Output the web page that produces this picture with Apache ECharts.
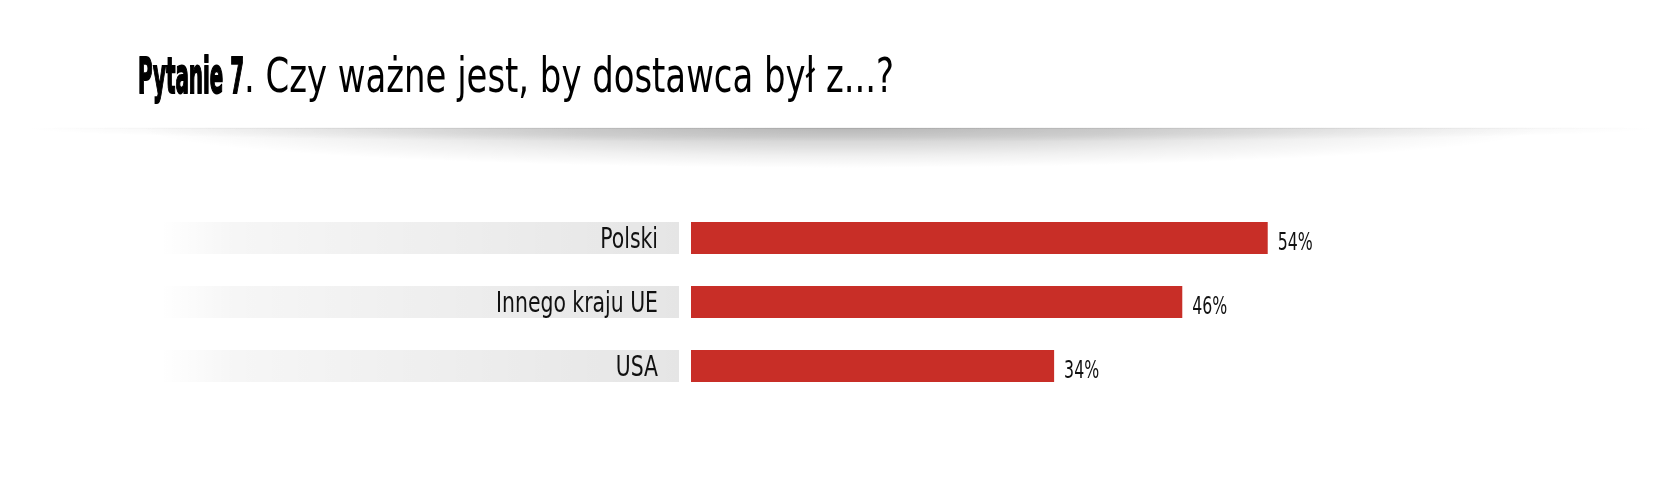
<!DOCTYPE html>
<html><head><meta charset="utf-8">
<script src="https://cdn.jsdelivr.net/npm/echarts@6/dist/echarts.min.js"></script>
<style>html,body{margin:0;padding:0;background:#fff}#c{width:1677px;height:482px}</style>
</head><body><div id="c"></div>
<script>
// ---- data ----
const categories = ['Polski', 'Innego kraju UE', 'USA'];
const values = [54, 46, 34];
const trackValues = [1, 1, 1];
const titleBold = 'Pytanie 7';
const titleRest = '. Czy ważne jest, by dostawca był z...?';

const FONT = '"DejaVu Sans Condensed", "DejaVu Sans", sans-serif';
function measure(text, font) {
  const ctx = document.createElement('canvas').getContext('2d');
  ctx.font = font;
  return ctx.measureText(text).width;
}
const boldScale = 106 / measure(titleBold, 'bold 49px ' + FONT);
const restScale = 650 / measure(titleRest, '48px ' + FONT);
const catFont = '28.5px ' + FONT;
const catScale = 162 / measure('Innego kraju UE', catFont);
const valFont = '24.5px ' + FONT;
const valScale = 35 / measure('54%', valFont);

const chart = echarts.init(document.getElementById('c'), null, { renderer: 'canvas' });
const gridTop = 206, gridHeight = 192;

chart.setOption({
  animation: false,
  backgroundColor: '#fff',
  graphic: [
    { type: 'sector', silent: true, z: -10, x: 840, y: 128, scaleY: 14 / 820,
      shape: { cx: 0, cy: 0, r: 820, startAngle: 0, endAngle: Math.PI },
      style: { fill: { type: 'radial', x: 0.5, y: 0, r: 1, colorStops: [
        { offset: 0, color: 'rgba(0,0,0,0.10)' },
        { offset: 0.6, color: 'rgba(0,0,0,0.06)' },
        { offset: 1, color: 'rgba(0,0,0,0)' }] } } },
    { type: 'sector', silent: true, z: -9, x: 840, y: 128, scaleY: 40 / 700,
      shape: { cx: 0, cy: 0, r: 700, startAngle: 0, endAngle: Math.PI },
      style: { fill: { type: 'radial', x: 0.5, y: 0, r: 1, colorStops: [
        { offset: 0, color: 'rgba(0,0,0,0.20)' },
        { offset: 0.4, color: 'rgba(0,0,0,0.14)' },
        { offset: 0.7, color: 'rgba(0,0,0,0.06)' },
        { offset: 1, color: 'rgba(0,0,0,0)' }] } } },
    { type: 'rect', silent: true, z: -8, shape: { x: 30, y: 127.5, width: 1620, height: 1.5 },
      style: { fill: { type: 'linear', x: 0, y: 0, x2: 1, y2: 0, colorStops: [
        { offset: 0, color: 'rgba(0,0,0,0)' },
        { offset: 0.2, color: 'rgba(0,0,0,0.05)' },
        { offset: 0.5, color: 'rgba(0,0,0,0.08)' },
        { offset: 0.8, color: 'rgba(0,0,0,0.05)' },
        { offset: 1, color: 'rgba(0,0,0,0)' }] } } },
    { type: 'text', x: 138, y: 80, scaleX: boldScale,
      style: { text: titleBold, font: 'bold 49px ' + FONT, fill: '#000', stroke: '#000', lineWidth: 1.8,
        align: 'left', textAlign: 'left', verticalAlign: 'middle', textVerticalAlign: 'middle' } },
    { type: 'text', x: 244, y: 80, scaleX: restScale,
      style: { text: titleRest, font: '48px ' + FONT, fill: '#000',
        align: 'left', textAlign: 'left', verticalAlign: 'middle', textVerticalAlign: 'middle' } }
  ],
  grid: [
    { left: 160, width: 519, top: gridTop, height: gridHeight },
    { left: 691, width: 640.8, top: gridTop, height: gridHeight }
  ],
  xAxis: [
    { gridIndex: 0, type: 'value', min: 0, max: 1, show: false },
    { gridIndex: 1, type: 'value', min: 0, max: 60, show: false }
  ],
  yAxis: [
    { gridIndex: 0, type: 'category', data: categories, inverse: true, show: false },
    { gridIndex: 1, type: 'category', data: categories, inverse: true, show: false }
  ],
  series: [
    { type: 'bar', xAxisIndex: 0, yAxisIndex: 0, data: trackValues, barWidth: 32, silent: true,
      itemStyle: { color: { type: 'linear', x: 0, y: 0, x2: 1, y2: 0, colorStops: [
        { offset: 0, color: 'rgba(0,0,0,0)' },
        { offset: 0.14, color: 'rgba(0,0,0,0.035)' },
        { offset: 1, color: 'rgba(0,0,0,0.1)' }] } } },
    { type: 'custom', xAxisIndex: 0, yAxisIndex: 0, silent: true, z: 5,
      data: trackValues.map((v, i) => [v, i]),
      encode: { x: 0, y: 1 },
      renderItem: function (params, api) {
        const p = api.coord([api.value(0), api.value(1)]);
        return { type: 'text', x: p[0] - 21, y: p[1] + 3, scaleX: catScale,
          style: { text: categories[params.dataIndex], font: catFont, fill: '#111',
            align: 'right', textAlign: 'right', verticalAlign: 'middle', textVerticalAlign: 'middle' } };
      } },
    { type: 'bar', xAxisIndex: 1, yAxisIndex: 1, data: values, barWidth: 32, silent: true,
      itemStyle: { color: '#c82e27' } },
    { type: 'custom', xAxisIndex: 1, yAxisIndex: 1, silent: true, z: 5,
      data: values.map((v, i) => [v, i]),
      encode: { x: 0, y: 1 },
      renderItem: function (params, api) {
        const p = api.coord([api.value(0), api.value(1)]);
        return { type: 'text', x: p[0] + 10, y: p[1] + 6, scaleX: valScale,
          style: { text: api.value(0) + '%', font: valFont, fill: '#111',
            align: 'left', textAlign: 'left', verticalAlign: 'middle', textVerticalAlign: 'middle' } };
      } }
  ]
});
</script></body></html>
